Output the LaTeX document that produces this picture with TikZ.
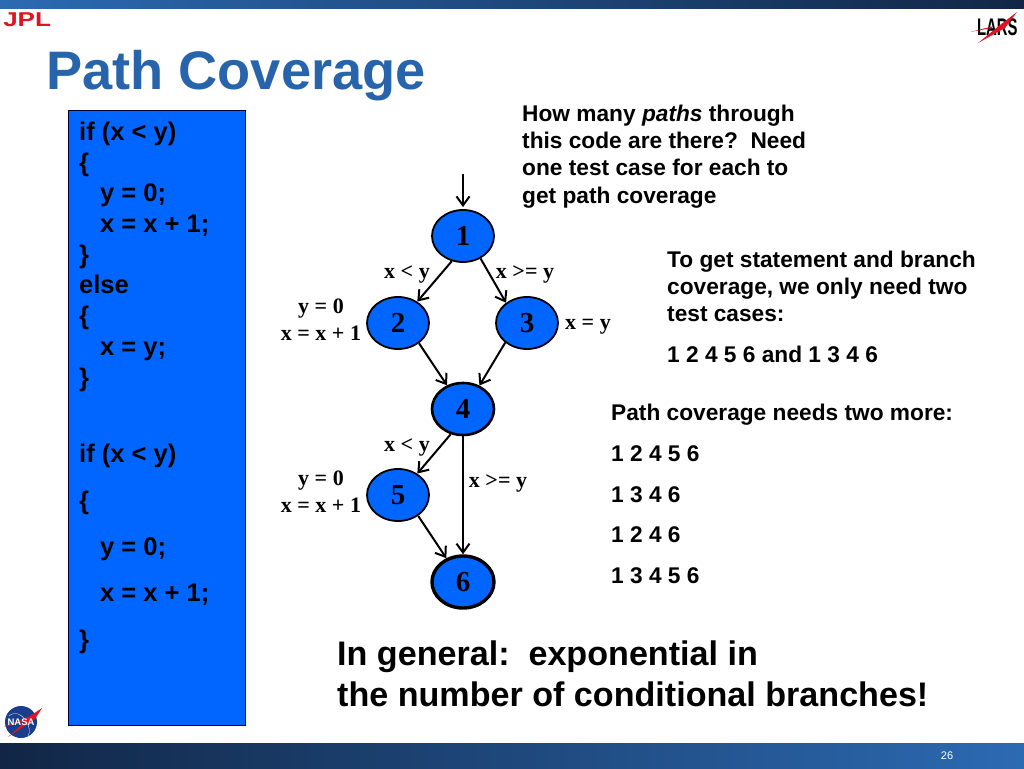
\documentclass[tikz,border=0pt]{standalone}
\usepackage{fontspec}
\setmainfont{Liberation Sans}
\newfontfamily\labelfont{Liberation Serif}
\usetikzlibrary{shapes.geometric,arrows.meta}
\definecolor{barblue}{RGB}{44,106,178}
\definecolor{barnavy}{RGB}{17,38,70}
\definecolor{titleblue}{RGB}{40,100,172}
\definecolor{codeblue}{RGB}{0,102,255}
\definecolor{logored}{RGB}{222,20,36}
\definecolor{nasablue}{RGB}{26,62,140}
\tikzset{
  statenode/.style={ellipse, draw=black, fill=codeblue, line width=1.8pt, inner sep=0pt,
    minimum width=62pt, minimum height=52pt, font=\labelfont\bfseries\fontsize{29}{29}\selectfont},
  flowedge/.style={-{Straight Barb[length=9pt,width=13pt,line width=2pt]}, line width=2pt},
  edgelabel/.style={font=\labelfont\bfseries\fontsize{22}{27}\selectfont, align=center, inner sep=0pt},
  bodytext/.style={anchor=base west, inner sep=0pt, font=\bfseries\fontsize{22.7}{27}\selectfont},
  codetext/.style={anchor=base west, inner sep=0pt, font=\bfseries\fontsize{25.5}{27}\selectfont},
  bigtext/.style={anchor=base west, inner sep=0pt, font=\bfseries\fontsize{34.1}{41}\selectfont}
}
\begin{document}
\begin{tikzpicture}[x=1pt, y=-1pt]
\useasboundingbox (0,0) rectangle (1024,768);
% --- top and bottom bars ---
\shade[left color=barblue, right color=barnavy] (0,0) rectangle (1024,9);
\shade[left color=barnavy, right color=barblue] (0,743) rectangle (1024,768);
\node[text=white, font=\fontsize{11}{11}\selectfont] (pagenum) at (947,756) {26};
% --- logos ---
\node[anchor=base west, inner sep=0pt, text=logored, font=\bfseries\fontsize{20}{20}\selectfont, xscale=1.3] (jpl) at (3,27) {JPL};
\node[anchor=base west, inner sep=0pt, font=\bfseries\fontsize{24}{24}\selectfont, xscale=0.62] (lars) at (977,36) {LARS};
\fill[logored] (978,43) -- (1000,25) -- (1017,12) -- (1005,28) -- cycle;
\fill[logored] (970,32) -- (992,26.5) -- (992,28) -- cycle;
\fill[nasablue] (21,722) circle (16);
\draw[white, line width=0.3pt] (9,716) .. controls (20,706) and (34,728) .. (28,736);
\fill[logored] (4,727) -- (30,716) -- (42,708) -- (35,719) -- (8,737) -- (26,721) -- cycle;
\node[text=white, inner sep=0pt, font=\bfseries\fontsize{9.5}{9.5}\selectfont] (nasa) at (21,722) {NASA};
% --- title ---
\node[anchor=base west, inner sep=0pt, text=titleblue, font=\bfseries\fontsize{54.2}{54}\selectfont] (title) at (46,89) {Path Coverage};
% --- code box ---
\node[draw=black!80!blue, fill=codeblue, line width=1pt, anchor=north west, inner sep=0pt,
  minimum width=177pt, minimum height=615pt] (codebox) at (68,110) {};
\foreach \linex/\liney/\linetext in {79/140/if (x < y), 79/171/\{, 100/201/y = 0;, 100/232/x = x + 1;,
    79/263/\}, 79/293/else, 79/324/\{, 100/355/x = y;, 79/386/\},
    79/462/if (x < y), 79/509/\{, 100/555/y = 0;, 100/601/x = x + 1;, 79/648/\}}
  \node[codetext] (code\liney) at (\linex,\liney) {\linetext};
% --- flow graph ---
\node[statenode] (n1) at (463,236) {1};
\node[statenode] (n2) at (398,323) {2};
\node[statenode] (n3) at (527,323) {3};
\node[statenode, line width=2.6pt] (n4) at (463,409) {4};
\node[statenode] (n5) at (398,495) {5};
\node[statenode, line width=3.4pt] (n6) at (463,582) {6};
\coordinate (entry) at (463,174);
\draw[flowedge, shorten >=2pt] (entry) -- (n1);
\draw[flowedge] (n1.-114) -- (n2.48);
\draw[flowedge] (n1.-52) -- (n3.136);
\draw[flowedge] (n2.-44) -- (n4.124);
\draw[flowedge] (n3.-138) -- (n4.55);
\draw[flowedge] (n4.-116) -- (n5.48);
\draw[flowedge] (n4.-90) -- (n6.90);
\draw[flowedge] (n5.-46) -- (n6.125);
\node[edgelabel] (lt1) at (407,274) {x < y};
\node[edgelabel] (ge1) at (525,274) {x >= y};
\node[edgelabel] (then1) at (321,320) {y = 0\\x = x + 1};
\node[edgelabel] (else1) at (588,327) {x = y};
\node[edgelabel] (lt2) at (407,447) {x < y};
\node[edgelabel] (ge2) at (498,483) {x >= y};
\node[edgelabel] (then2) at (321,492) {y = 0\\x = x + 1};
% --- explanations ---
\node[bodytext] (howmany1) at (522,121) {How many \textit{paths} through};
\node[bodytext] (howmany2) at (522,148) {this code are there?\ \ Need};
\node[bodytext] (howmany3) at (522,175) {one test case for each to};
\node[bodytext] (howmany4) at (522,203) {get path coverage};
\node[bodytext] (stmt1) at (667,267) {To get statement and branch};
\node[bodytext] (stmt2) at (667,294) {coverage, we only need two};
\node[bodytext] (stmt3) at (667,321) {test cases:};
\node[bodytext] (stmt4) at (667,362) {1 2 4 5 6 and 1 3 4 6};
\node[bodytext] (more) at (611,420) {Path coverage needs two more:};
\foreach \liney/\pathtext in {461/1 2 4 5 6, 502/1 3 4 6, 542/1 2 4 6, 583/1 3 4 5 6}
  \node[bodytext] (more\liney) at (611,\liney) {\pathtext};
\node[bigtext] (general1) at (337,665) {In general:\ \ exponential in};
\node[bigtext] (general2) at (337,706) {the number of conditional branches!};
\end{tikzpicture}
\end{document}
